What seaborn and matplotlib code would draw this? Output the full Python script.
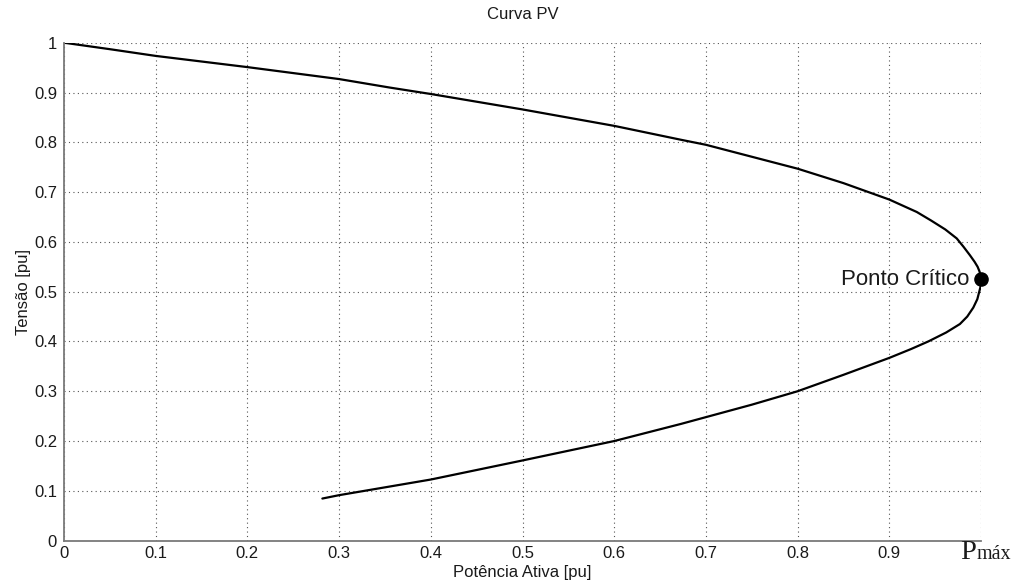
import numpy as np
import pandas as pd
import matplotlib
matplotlib.use("Agg")
import matplotlib.pyplot as plt
import seaborn as sns

# Upper (stable) branch of the PV curve, from no load to the nose
p_upper = [0.0, 0.05, 0.1, 0.2, 0.3, 0.355, 0.4, 0.5, 0.6, 0.673, 0.7, 0.8, 0.85,
           0.9, 0.918, 0.93, 0.9455, 0.961, 0.9735, 0.981, 0.988, 0.993, 0.9963,
           0.9985, 1.0]
v_upper = [1.0, 0.987, 0.9735, 0.951, 0.927, 0.910, 0.897, 0.866, 0.833, 0.805, 0.795,
           0.747, 0.718, 0.685, 0.670, 0.660, 0.643, 0.625, 0.607, 0.590, 0.573,
           0.560, 0.550, 0.540, 0.525]

# Lower (unstable) branch, from the nose down to the last solved point
p_lower = [1.0, 0.9995, 0.996, 0.9916, 0.985, 0.977, 0.962, 0.9425, 0.924, 0.9,
           0.875, 0.85, 0.8, 0.75, 0.7, 0.673, 0.6, 0.5, 0.4, 0.3, 0.2817]
v_lower = [0.525, 0.510, 0.485, 0.468, 0.450, 0.435, 0.418, 0.400, 0.385, 0.367,
           0.350, 0.333, 0.300, 0.273, 0.248, 0.2345, 0.200, 0.161, 0.1227, 0.0913,
           0.0845]

# Critical (maximum loadability) point
p_crit = [1.0]
v_crit = [0.525]

ticks = [0.0, 0.1, 0.2, 0.3, 0.4, 0.5, 0.6, 0.7, 0.8, 0.9, 1.0]
xtick_labels = ["0", "0.1", "0.2", "0.3", "0.4", "0.5", "0.6", "0.7", "0.8", "0.9", ""]
ytick_labels = ["0", "0.1", "0.2", "0.3", "0.4", "0.5", "0.6", "0.7", "0.8", "0.9", "1"]

sns.set_theme(style="white")
plt.rcParams["font.family"] = ["Liberation Sans", "DejaVu Sans"]

curve = pd.DataFrame({
    "P": p_upper + p_lower[1:],
    "V": v_upper + v_lower[1:],
})

fig = plt.figure(figsize=(10.15, 5.82), dpi=100)
ax = fig.add_axes([0.0631, 0.0711, 0.9034, 0.8555])

sns.lineplot(data=curve, x="P", y="V", sort=False, estimator=None,
             color="black", linewidth=1.6, ax=ax)
ax.plot(p_crit, v_crit, "o", color="black", markersize=9.5, zorder=5, clip_on=False)
ax.annotate("Ponto Crítico", xy=(p_crit[0], v_crit[0]), xytext=(-8.5, -4.3),
            textcoords="offset points", ha="right", va="baseline",
            fontsize=16, color="#1a1a1a")

ax.set_xlim(0, 1)
ax.set_ylim(0, 1)
ax.set_xticks(ticks)
ax.set_yticks(ticks)
ax.set_xticklabels(xtick_labels)
ax.set_yticklabels(ytick_labels)

ax.grid(True, linestyle=(0, (1, 3)), color="#555555", linewidth=0.8)
for side in ("top", "right"):
    ax.spines[side].set_visible(False)
for side in ("left", "bottom"):
    ax.spines[side].set_color("#7a7a7a")
    ax.spines[side].set_linewidth(1.3)

ax.tick_params(axis="both", direction="in", length=6, width=1.0, color="#333333",
               labelsize=12, labelcolor="#1a1a1a", pad=5)
ax.tick_params(axis="x", pad=4)

ax.set_title("Curva PV", fontsize=12, color="#1a1a1a", pad=17)
ax.set_xlabel("Potência Ativa [pu]", fontsize=12, color="#1a1a1a", labelpad=3)
ax.set_ylabel("Tensão [pu]", fontsize=12, color="#1a1a1a", labelpad=2)

# Maximum power marker below the x axis end
ax.text(0.9945, -0.037, "P", transform=ax.transData, ha="right", va="baseline",
        fontsize=20.5, family="Liberation Serif", color="#1a1a1a", clip_on=False)
ax.text(0.9955, -0.037, "máx", transform=ax.transData, ha="left", va="baseline",
        fontsize=14.5, family="Liberation Serif", color="#1a1a1a", clip_on=False)

fig.savefig("out.png", dpi=100)
